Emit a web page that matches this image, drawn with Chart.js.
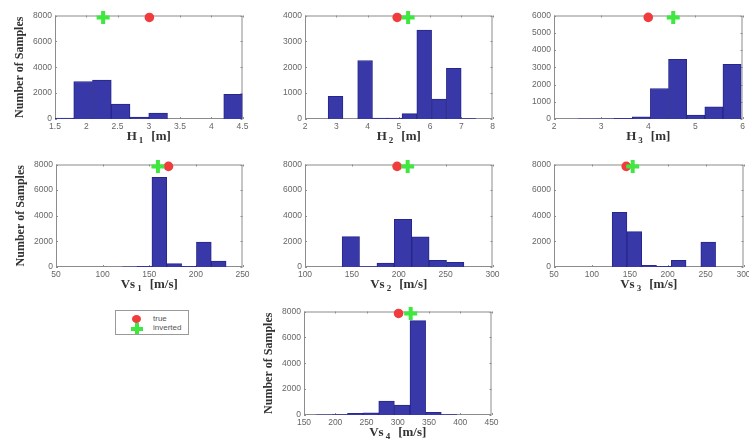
<!DOCTYPE html>
<html>
<head>
<meta charset="utf-8">
<script src="https://cdn.jsdelivr.net/npm/chart.js@4.4.1/dist/chart.umd.min.js"></script>
<style>
  html, body { margin: 0; padding: 0; background: #fff; }
  body { width: 749px; height: 447px; overflow: hidden; position: relative; }
  canvas { position: absolute; }
  #legend { position: absolute; left: 115px; top: 310px; width: 72px; height: 23px;
            border: 1px solid #9a9a9a; background: #fff; font: 8px "Liberation Sans", Arial, sans-serif; color: #555; }
  #legend .row { position: absolute; left: 0; height: 10px; line-height: 10px; }
  #legend .lbl { position: absolute; left: 37px; top: 0; white-space: nowrap; }
  #legend .dot { position: absolute; left: 16px; top: 1px; width: 9px; height: 8px; border-radius: 50%; background: #f03c3c; }
  #legend .plus { position: absolute; left: 15px; top: 0; width: 12px; height: 11px; }
  #legend .plus::before { content: ""; position: absolute; left: 4px; top: 0; width: 4px; height: 11px; background: #3ee83e; }
  #legend .plus::after { content: ""; position: absolute; left: 0; top: 4px; width: 12px; height: 4px; background: #3ee83e; }
</style>
</head>
<body>
<div id="legend">
  <div class="row" style="top:3px;width:100%"><span class="dot"></span><span class="lbl">true</span></div>
  <div class="row" style="top:12px;width:100%"><span class="plus"></span><span class="lbl">inverted</span></div>
</div>
<script>
// ---- histogram bins (bin centres) and sample counts ----
const h1Centers  = [1.65, 1.95, 2.25, 2.55, 2.85, 3.15, 3.45, 3.75, 4.05, 4.35];
const h1Counts   = [80, 2900, 3000, 1150, 150, 450, 0, 0, 0, 1900];

const h2Centers  = [2.977, 3.45, 3.923, 4.396, 4.869, 5.342, 5.815, 6.288, 6.761, 7.234];
const h2Counts   = [880, 0, 2260, 40, 40, 210, 3440, 770, 1960, 15];

const h3Centers  = [2.3125, 2.6975, 3.0825, 3.4675, 3.8525, 4.2375, 4.6225, 5.0075, 5.3925, 5.7775];
const h3Counts   = [0, 5, 10, 40, 130, 1770, 3460, 230, 710, 3170];

const vs1Centers = [81.35, 97.25, 113.15, 129.05, 144.95, 160.85, 176.75, 192.65, 208.55, 224.45];
const vs1Counts  = [0, 0, 0, 10, 50, 7000, 260, 50, 1940, 460];

const vs2Centers = [148.88, 167.44, 186.0, 204.56, 223.12, 241.68, 260.24];
const vs2Counts  = [2370, 30, 310, 3720, 2350, 520, 360];

const vs3Centers = [136.45, 155.95, 175.45, 194.95, 214.45, 233.95, 253.45];
const vs3Counts  = [4260, 2760, 130, 50, 520, 0, 1940];

const vs4Centers = [182.1, 207.1, 232.1, 257.1, 282.1, 307.1, 332.1, 357.1, 382.1];
const vs4Counts  = [10, 40, 130, 170, 1080, 770, 7300, 200, 30];

// ---- true model vs inverted model values ----
const trueValues     = [3.01, 4.95, 4.0, 170.6, 198.2, 145.3, 301.3];
const invertedValues = [2.27, 5.3, 4.53, 159.3, 209.5, 153.8, 320.7];
// height at which the two markers sit (just under the top of each axis)
const markerLevels   = [7850, 3925, 5890, 7850, 7850, 7850, 7850];

// ---- tick labels ----
const h1XTicks  = ['1.5', '2', '2.5', '3', '3.5', '4', '4.5'];
const h2XTicks  = ['2', '3', '4', '5', '6', '7', '8'];
const h3XTicks  = ['2', '3', '4', '5', '6'];
const vs1XTicks = ['50', '100', '150', '200', '250'];
const vs2XTicks = ['100', '150', '200', '250', '300'];
const vs3XTicks = ['50', '100', '150', '200', '250', '300'];
const vs4XTicks = ['150', '200', '250', '300', '350', '400', '450'];
const y8000Ticks = ['0', '2000', '4000', '6000', '8000'];
const y4000Ticks = ['0', '1000', '2000', '3000', '4000'];
const y6000Ticks = ['0', '1000', '2000', '3000', '4000', '5000', '6000'];

// ---- axis titles ----
const yTitle = 'Number of Samples';
const xTitles = [
  ['H', '1', '[m]'], ['H', '2', '[m]'], ['H', '3', '[m]'],
  ['Vs', '1', '[m/s]'], ['Vs', '2', '[m/s]'], ['Vs', '3', '[m/s]'], ['Vs', '4', '[m/s]']
];

// panel layout: plot-area box [left, top, right, bottom] in page pixels
const panels = [
  { centers: h1Centers,  counts: h1Counts,  xTicks: h1XTicks,  yTicks: y8000Ticks, box: [55, 15, 245, 119],  yTitle: true },
  { centers: h2Centers,  counts: h2Counts,  xTicks: h2XTicks,  yTicks: y4000Ticks, box: [305, 15, 495, 119], yTitle: false },
  { centers: h3Centers,  counts: h3Counts,  xTicks: h3XTicks,  yTicks: y6000Ticks, box: [554, 15, 745, 119], yTitle: false },
  { centers: vs1Centers, counts: vs1Counts, xTicks: vs1XTicks, yTicks: y8000Ticks, box: [56, 164, 245, 267], yTitle: true },
  { centers: vs2Centers, counts: vs2Counts, xTicks: vs2XTicks, yTicks: y8000Ticks, box: [305, 164, 495, 267], yTitle: false },
  { centers: vs3Centers, counts: vs3Counts, xTicks: vs3XTicks, yTicks: y8000Ticks, box: [554, 164, 746, 267], yTitle: false },
  { centers: vs4Centers, counts: vs4Counts, xTicks: vs4XTicks, yTicks: y8000Ticks, box: [304, 311, 494, 415], yTitle: true }
];

const PAD_L = 50, PAD_T = 10, PAD_R = 8, PAD_B = 32;
const TEXT = '#333';
const TICK_TEXT = '#666';
const FRAME = '#8c8c8c';

// axes box, inward tick marks and the serif axis titles
const axesDecor = {
  id: 'axesDecor',
  beforeDatasetsDraw(chart, args, opts) {
    const { ctx, chartArea: a, scales } = chart;
    ctx.save();
    ctx.strokeStyle = FRAME;
    ctx.lineWidth = 1;
    ctx.strokeRect(a.left + 0.5, a.top + 0.5, a.right - a.left - 1, a.bottom - a.top - 1);
    ctx.beginPath();
    scales.x.ticks.forEach((t, i) => {
      const x = Math.round(scales.x.getPixelForTick(i)) + 0.5;
      ctx.moveTo(x, a.bottom); ctx.lineTo(x, a.bottom - 2);
      ctx.moveTo(x, a.top); ctx.lineTo(x, a.top + 2);
    });
    scales.y.ticks.forEach((t, i) => {
      const y = Math.round(scales.y.getPixelForTick(i)) + 0.5;
      ctx.moveTo(a.left, y); ctx.lineTo(a.left + 2, y);
      ctx.moveTo(a.right, y); ctx.lineTo(a.right - 2, y);
    });
    ctx.stroke();
    ctx.restore();
  },
  afterDraw(chart, args, opts) {
    const { ctx, chartArea: a } = chart;
    ctx.save();
    ctx.fillStyle = TEXT;
    ctx.textBaseline = 'alphabetic';
    ctx.textAlign = 'left';
    const [main, sub, rest] = opts.xTitle;
    const big = 'bold 13px "Liberation Serif", "Times New Roman", serif';
    const small = 'bold 9px "Liberation Serif", "Times New Roman", serif';
    const gapSub = 2, gapRest = 8;
    ctx.font = big;
    const wMain = ctx.measureText(main).width;
    const wRest = ctx.measureText(rest).width;
    ctx.font = small;
    const wSub = ctx.measureText(sub).width;
    const total = wMain + gapSub + wSub + gapRest + wRest;
    let x = (a.left + a.right) / 2 - total / 2;
    const base = a.bottom + 21;
    ctx.font = big;
    ctx.fillText(main, x, base);
    x += wMain + gapSub;
    ctx.font = small;
    ctx.fillText(sub, x, base + 3);
    x += wSub + gapRest;
    ctx.font = big;
    ctx.fillText(rest, x, base);
    if (opts.yTitle) {
      ctx.translate(a.left - 35, (a.top + a.bottom) / 2);
      ctx.rotate(-Math.PI / 2);
      ctx.textAlign = 'center';
      ctx.textBaseline = 'middle';
      ctx.font = 'bold 12px "Liberation Serif", "Times New Roman", serif';
      ctx.fillText(yTitle, 0, 0);
    }
    ctx.restore();
  }
};

panels.forEach((p, k) => {
  const [l, t, r, b] = p.box;
  const canvas = document.createElement('canvas');
  const w = r - l + PAD_L + PAD_R;
  const h = b - t + PAD_T + PAD_B;
  canvas.width = w; canvas.height = h;
  canvas.style.left = (l - PAD_L) + 'px';
  canvas.style.top = (t - PAD_T) + 'px';
  canvas.style.width = w + 'px';
  canvas.style.height = h + 'px';
  document.body.appendChild(canvas);

  const xVals = p.xTicks.map(Number);
  const yVals = p.yTicks.map(Number);
  const tickFont = { family: '"Liberation Sans", Arial, sans-serif', size: 8.5 };

  new Chart(canvas, {
    type: 'bar',
    data: {
      datasets: [
        { type: 'scatter', label: 'inverted', data: [{ x: invertedValues[k], y: markerLevels[k] }],
          pointStyle: 'cross', pointRadius: 6.5, pointBorderWidth: 4, borderColor: '#3ee83e',
          backgroundColor: '#3ee83e', clip: false },
        { type: 'scatter', label: 'true', data: [{ x: trueValues[k], y: markerLevels[k] }],
          pointStyle: 'circle', pointRadius: 4.8, pointBorderWidth: 0, borderColor: '#f03c3c',
          backgroundColor: '#f03c3c', clip: false },
        { type: 'bar', label: 'samples', data: p.centers.map((c, i) => ({ x: c, y: p.counts[i] })),
          backgroundColor: '#3838a8', borderColor: '#26268c', borderWidth: 1,
          barPercentage: 1, categoryPercentage: 1 }
      ]
    },
    options: {
      responsive: false,
      animation: false,
      devicePixelRatio: 1,
      layout: { padding: { top: PAD_T, right: PAD_R, left: 0, bottom: 0 } },
      plugins: {
        legend: { display: false },
        tooltip: { enabled: false },
        axesDecor: { xTitle: xTitles[k], yTitle: p.yTitle }
      },
      scales: {
        x: {
          type: 'linear', min: xVals[0], max: xVals[xVals.length - 1], offset: false,
          grid: { display: false, drawTicks: false, tickLength: 0 }, border: { display: false },
          afterBuildTicks: s => { s.ticks = xVals.map(v => ({ value: v })); },
          afterFit: s => { s.height = PAD_B; },
          ticks: { font: tickFont, color: TICK_TEXT, padding: 3, maxRotation: 0, autoSkip: false,
                   callback: (v, i) => p.xTicks[i] }
        },
        y: {
          type: 'linear', min: yVals[0], max: yVals[yVals.length - 1],
          grid: { display: false, drawTicks: false, tickLength: 0 }, border: { display: false },
          afterBuildTicks: s => { s.ticks = yVals.map(v => ({ value: v })); },
          afterFit: s => { s.width = PAD_L; },
          ticks: { font: tickFont, color: TICK_TEXT, padding: 3, autoSkip: false,
                   callback: (v, i) => p.yTicks[i] }
        }
      }
    },
    plugins: [axesDecor]
  });
});
</script>
</body>
</html>
